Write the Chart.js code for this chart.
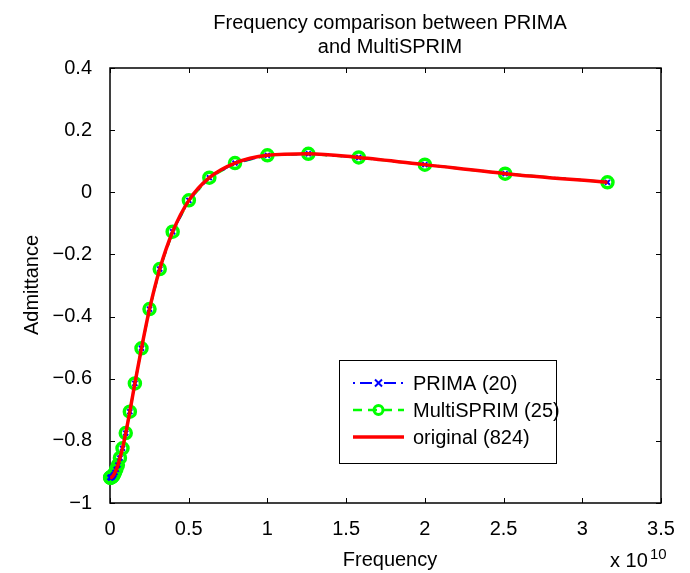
<!DOCTYPE html>
<html>
<head>
<meta charset="utf-8">
<script src="https://cdn.jsdelivr.net/npm/chart.js@4.4.1/dist/chart.umd.min.js"></script>
<style>
  body { margin: 0; background: #fff; }
  #chart { display: block; }
</style>
</head>
<body>
<canvas id="chart" width="690" height="573"></canvas>
<script>
// frequency in units of 1e10 Hz
var freq = [0.001, 0.00158, 0.00251, 0.00398, 0.00631, 0.01, 0.0126, 0.0158, 0.02, 0.0251,
            0.0316, 0.0398, 0.0501, 0.0631, 0.0794, 0.1, 0.126, 0.158, 0.2, 0.251,
            0.316, 0.398, 0.501, 0.631, 0.794, 1.0, 1.26, 1.58, 2.0, 2.51, 3.16];

var original = [-0.918, -0.918, -0.918, -0.918, -0.918, -0.917, -0.916, -0.915, -0.912, -0.908,
                -0.902, -0.892, -0.878, -0.855, -0.824, -0.775, -0.706, -0.615, -0.502, -0.376,
                -0.247, -0.127, -0.026, 0.047, 0.094, 0.119, 0.124, 0.112, 0.089, 0.060, 0.032];

var prima = [-0.918, -0.918, -0.918, -0.918, -0.918, -0.917, -0.916, -0.915, -0.912, -0.908,
             -0.902, -0.892, -0.878, -0.855, -0.824, -0.775, -0.706, -0.615, -0.502, -0.376,
             -0.247, -0.127, -0.026, 0.047, 0.094, 0.119, 0.124, 0.112, 0.089, 0.060, 0.032];

var multisprim = [-0.918, -0.918, -0.918, -0.918, -0.918, -0.917, -0.916, -0.915, -0.912, -0.908,
                  -0.902, -0.892, -0.878, -0.855, -0.824, -0.775, -0.706, -0.615, -0.502, -0.376,
                  -0.247, -0.127, -0.026, 0.047, 0.094, 0.119, 0.124, 0.112, 0.089, 0.060, 0.032];

var xTicks = [0, 0.5, 1, 1.5, 2, 2.5, 3, 3.5];
var yTicks = [-1, -0.8, -0.6, -0.4, -0.2, 0, 0.2, 0.4];

var titleLines = ["Frequency comparison between PRIMA", "and MultiSPRIM"];
var legendNames = ["PRIMA (20)", "MultiSPRIM (25)", "original (824)"];

var FONT = "'Liberation Sans', Arial, sans-serif";

function pts(ys) {
    return freq.map(function(f, i){ return {x: f, y: ys[i]}; });
}

function fmt(v) {
    var s = Math.abs(v) < 1e-9 ? "0" : String(+v.toFixed(1));
    return s.replace("-", "\u2212");
}

// box, inward ticks, title, axis labels, legend
var decor = {
    id: "decor",
    beforeDatasetsDraw: function(chart) {
        var c = chart.ctx, a = chart.chartArea;
        var sx = chart.scales.x, sy = chart.scales.y;
        c.save();
        c.strokeStyle = "#000";
        c.lineWidth = 1.5;
        c.strokeRect(a.left, a.top, a.right - a.left, a.bottom - a.top);
        c.lineWidth = 1;
        c.beginPath();
        xTicks.forEach(function(t){
            var px = Math.round(sx.getPixelForValue(t)) + 0.5;
            c.moveTo(px, a.bottom); c.lineTo(px, a.bottom - 5);
            c.moveTo(px, a.top); c.lineTo(px, a.top + 5);
        });
        yTicks.forEach(function(t){
            var py = Math.round(sy.getPixelForValue(t)) + 0.5;
            c.moveTo(a.left, py); c.lineTo(a.left + 5, py);
            c.moveTo(a.right, py); c.lineTo(a.right - 5, py);
        });
        c.stroke();
        c.restore();
    },
    afterDraw: function(chart) {
        var c = chart.ctx;
        c.save();
        c.fillStyle = "#000";
        c.font = "20px " + FONT;
        c.textAlign = "center";
        c.textBaseline = "alphabetic";
        c.fillText(titleLines[0], 390, 29);
        c.fillText(titleLines[1], 390, 53);
        c.fillText("Frequency", 390, 566);

        c.textAlign = "left";
        c.fillText("x 10", 610, 567);
        c.font = "15px " + FONT;
        c.fillText("10", 650, 559);

        c.save();
        c.font = "20px " + FONT;
        c.translate(38, 285);
        c.rotate(-Math.PI / 2);
        c.textAlign = "center";
        c.fillText("Admittance", 0, 0);
        c.restore();

        // legend
        var L = 339, T = 360, R = 556, B = 463;
        c.fillStyle = "#fff";
        c.fillRect(L, T, R - L, B - T);
        c.strokeStyle = "#000";
        c.lineWidth = 1;
        c.strokeRect(L + 0.5, T + 0.5, R - L, B - T);
        var rows = [383, 410, 437];
        var x0 = 353, x1 = 404, xm = 378.5;

        // PRIMA: blue dash-dot with x marker
        c.strokeStyle = "#0000ff";
        c.lineWidth = 2;
        c.setLineDash([2, 5, 12, 5]);
        c.beginPath(); c.moveTo(x0, rows[0]); c.lineTo(x1, rows[0]); c.stroke();
        c.setLineDash([]);
        c.beginPath();
        c.moveTo(xm - 3.5, rows[0] - 3.5); c.lineTo(xm + 3.5, rows[0] + 3.5);
        c.moveTo(xm + 3.5, rows[0] - 3.5); c.lineTo(xm - 3.5, rows[0] + 3.5);
        c.stroke();

        // MultiSPRIM: green dashed with circle
        c.strokeStyle = "#00ff00";
        c.lineWidth = 2.5;
        c.setLineDash([9, 6]);
        c.beginPath(); c.moveTo(x0, rows[1]); c.lineTo(x1, rows[1]); c.stroke();
        c.setLineDash([]);
        c.lineWidth = 3;
        c.beginPath(); c.arc(xm, rows[1], 4.5, 0, Math.PI * 2); c.stroke();

        // original: red solid
        c.strokeStyle = "#ff0000";
        c.lineWidth = 3.5;
        c.beginPath(); c.moveTo(x0, rows[2]); c.lineTo(x1, rows[2]); c.stroke();

        c.fillStyle = "#000";
        c.font = "20px " + FONT;
        c.textAlign = "left";
        c.textBaseline = "middle";
        legendNames.forEach(function(n, i){ c.fillText(n, 413, rows[i] + 1); });
        c.restore();
    }
};

var ctx = document.getElementById("chart");
var chart = new Chart(ctx, {
    type: "line",
    data: {
        datasets: [{
            label: legendNames[2],
            data: pts(original),
            borderColor: "#ff0000",
            borderWidth: 3.5,
            pointRadius: 0,
            cubicInterpolationMode: "monotone",
            clip: false
        }, {
            label: legendNames[0],
            data: pts(prima),
            borderColor: "#0000ff",
            borderWidth: 2,
            borderDash: [12, 5, 2, 5],
            pointStyle: "crossRot",
            pointRadius: 3.5,
            pointBorderWidth: 2,
            pointBorderColor: "#0000ff",
            pointBackgroundColor: "rgba(0,0,0,0)",
            tension: 0,
            clip: false
        }, {
            label: legendNames[1],
            data: pts(multisprim),
            borderColor: "#00ff00",
            borderWidth: 2.5,
            borderDash: [9, 6],
            pointStyle: "circle",
            pointRadius: 5.5,
            pointBorderWidth: 3.5,
            pointBorderColor: "#00ff00",
            pointBackgroundColor: "rgba(0,0,0,0)",
            tension: 0,
            clip: false
        }]
    },
    options: {
        responsive: false,
        animation: false,
        layout: { padding: { top: 68, right: 29, left: 0, bottom: 0 } },
        plugins: { legend: { display: false }, tooltip: { enabled: false } },
        scales: {
            x: {
                type: "linear",
                min: 0, max: 3.5,
                afterFit: function(s){ s.height = 70; },
                afterBuildTicks: function(s){ s.ticks = xTicks.map(function(v){ return {value: v}; }); },
                grid: { display: false, drawTicks: false },
                border: { display: false },
                ticks: {
                    padding: 14,
                    color: "#000",
                    font: { family: FONT, size: 20 },
                    maxRotation: 0,
                    callback: function(v){ return fmt(v); }
                }
            },
            y: {
                type: "linear",
                min: -1, max: 0.4,
                afterFit: function(s){ s.width = 110; },
                afterBuildTicks: function(s){ s.ticks = yTicks.map(function(v){ return {value: v}; }); },
                grid: { display: false, drawTicks: false },
                border: { display: false },
                ticks: {
                    padding: 18,
                    color: "#000",
                    font: { family: FONT, size: 20 },
                    callback: function(v){ return fmt(v); }
                }
            }
        }
    },
    plugins: [decor]
});
</script>
</body>
</html>
